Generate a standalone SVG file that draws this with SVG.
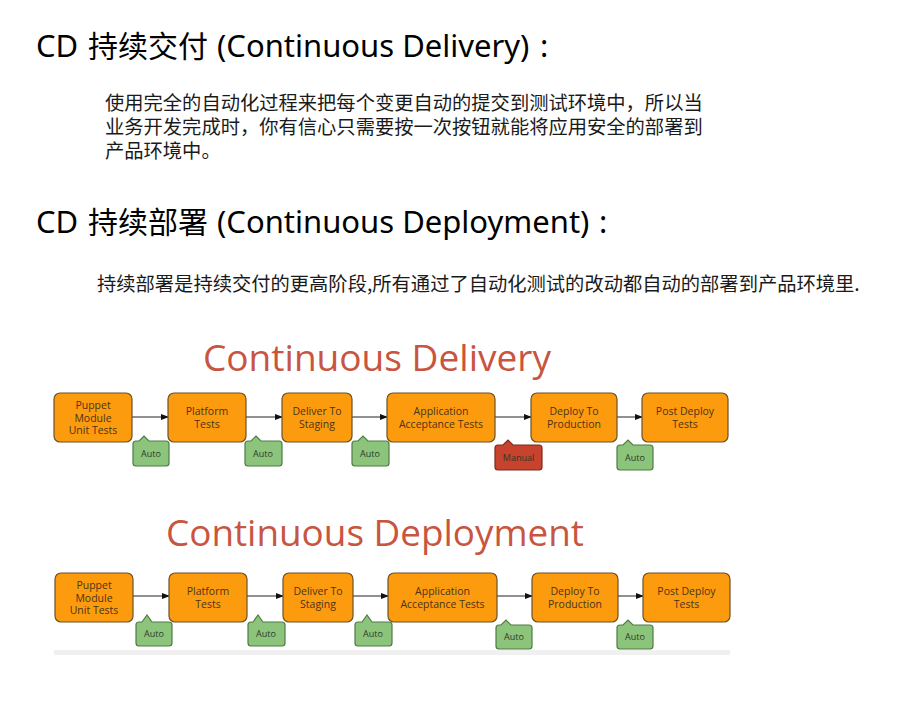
<svg xmlns="http://www.w3.org/2000/svg" width="903" height="723" viewBox="0 0 903 723">
<style>
.h{font-family:"Noto Sans","Noto Sans CJK SC",sans-serif;font-size:31px;fill:#000}
.hc{font-family:"Noto Sans CJK SC",sans-serif;font-size:30px}
.p{font-family:"Noto Sans CJK SC","Noto Sans",sans-serif;font-size:19.3px;fill:#1a1a1a}
.t{font-family:"Open Sans","Noto Sans",sans-serif;font-size:36px;fill:#c8553f}
.box{fill:#fd9b0f;stroke:#6b5126;stroke-width:1.2}
.bt{font-family:"Open Sans","Noto Sans",sans-serif;font-size:10.5px;fill:#4a3415;text-anchor:middle}
.auto{fill:#8cc47c;stroke:#4f7c45;stroke-width:1.2}
.man{fill:#c8432e;stroke:#7a2a1e;stroke-width:1.2}
.ct{font-family:"Open Sans","Noto Sans",sans-serif;font-size:9px;fill:#2d3a26;text-anchor:middle}
.ln{stroke:#222;stroke-width:1;fill:none;marker-end:url(#ah)}
</style>
<defs>
<marker id="ah" markerWidth="8" markerHeight="6" refX="7" refY="3" orient="auto" markerUnits="userSpaceOnUse">
<path d="M0,0 L8,3 L0,6 Z" fill="#111"/>
</marker>
</defs>
<rect width="903" height="723" fill="#fff"/>

<g id="heading1">
<text class="h" x="36" y="57">CD <tspan class="hc" x="88">持续交付</tspan> <tspan x="217">(Continuous Delivery)</tspan><tspan x="540">:</tspan></text>
</g>
<g id="para1">
<text class="p" x="105" y="110" font-size="19.4">使用完全的自动化过程来把每个变更自动的提交到测试环境中，所以当</text>
<text class="p" x="105" y="134" font-size="19.4">业务开发完成时，你有信心只需要按一次按钮就能将应用安全的部署到</text>
<text class="p" x="105" y="158" font-size="19.4">产品环境中。</text>
</g>
<g id="heading2">
<text class="h" x="36" y="233">CD <tspan class="hc" x="88">持续部署</tspan> <tspan x="217">(Continuous Deployment)</tspan><tspan x="599">:</tspan></text>
</g>
<g id="para2">
<text class="p" x="97" y="291">持续部署是持续交付的更高阶段,所有通过了自动化测试的改动都自动的部署到产品环境里.</text>
</g>

<!-- Continuous Delivery diagram -->
<g id="title-delivery">
<text class="t" x="203" y="371" textLength="348" lengthAdjust="spacingAndGlyphs">Continuous Delivery</text>
</g>
<g id="connectors-delivery">
<line class="ln" x1="132" y1="417" x2="168" y2="417"/>
<line class="ln" x1="246" y1="417" x2="282" y2="417"/>
<line class="ln" x1="352" y1="417" x2="387" y2="417"/>
<line class="ln" x1="495" y1="417" x2="531" y2="417"/>
<line class="ln" x1="617" y1="417" x2="642" y2="417"/>
</g>
<g id="d-puppet"><rect class="box" x="54" y="393" width="78" height="49" rx="6"/>
<text class="bt" x="93" y="409">Puppet</text><text class="bt" x="93" y="421.5">Module</text><text class="bt" x="93" y="434">Unit Tests</text></g>
<g id="d-platform"><rect class="box" x="168" y="393" width="78" height="49" rx="6"/>
<text class="bt" x="207" y="415">Platform</text><text class="bt" x="207" y="428">Tests</text></g>
<g id="d-staging"><rect class="box" x="282" y="393" width="70" height="49" rx="6"/>
<text class="bt" x="317" y="415">Deliver To</text><text class="bt" x="317" y="428">Staging</text></g>
<g id="d-acceptance"><rect class="box" x="387" y="393" width="108" height="49" rx="6"/>
<text class="bt" x="441" y="415">Application</text><text class="bt" x="441" y="428">Acceptance Tests</text></g>
<g id="d-production"><rect class="box" x="531" y="393" width="86" height="49" rx="6"/>
<text class="bt" x="574" y="415">Deploy To</text><text class="bt" x="574" y="428">Production</text></g>
<g id="d-post"><rect class="box" x="642" y="393" width="86" height="49" rx="6"/>
<text class="bt" x="685" y="415">Post Deploy</text><text class="bt" x="685" y="428">Tests</text></g>

<g id="d-auto1"><path class="auto" d="M136,441 H139 L144,436 L149,441 H166 Q169,441 169,444 V463 Q169,466 166,466 H136 Q133,466 133,463 V444 Q133,441 136,441 Z"/><text class="ct" x="151" y="457">Auto</text></g>
<g id="d-auto2"><path class="auto" d="M248,441 H251 L256,436 L261,441 H279 Q282,441 282,444 V463 Q282,466 279,466 H248 Q245,466 245,463 V444 Q245,441 248,441 Z"/><text class="ct" x="263" y="457">Auto</text></g>
<g id="d-auto3"><path class="auto" d="M355,441 H358 L363,436 L368,441 H386 Q389,441 389,444 V463 Q389,466 386,466 H355 Q352,466 352,463 V444 Q352,441 355,441 Z"/><text class="ct" x="370" y="457">Auto</text></g>
<g id="d-manual"><path class="man" d="M498,445 H503 L508,440 L513,445 H539 Q542,445 542,448 V467 Q542,470 539,470 H498 Q495,470 495,467 V448 Q495,445 498,445 Z"/><text class="ct" x="518.5" y="461">Manual</text></g>
<g id="d-auto5"><path class="auto" d="M620,445 H623 L628,440 L633,445 H650 Q653,445 653,448 V467 Q653,470 650,470 H620 Q617,470 617,467 V448 Q617,445 620,445 Z"/><text class="ct" x="635" y="461">Auto</text></g>

<!-- Continuous Deployment diagram -->
<g id="title-deployment">
<text class="t" x="166" y="546" textLength="418" lengthAdjust="spacingAndGlyphs">Continuous Deployment</text>
</g>
<rect x="54" y="650" width="676" height="5" fill="#f0f0f0"/>
<g id="connectors-deployment">
<line class="ln" x1="133" y1="596" x2="169" y2="596"/>
<line class="ln" x1="247" y1="596" x2="283" y2="596"/>
<line class="ln" x1="353" y1="596" x2="388" y2="596"/>
<line class="ln" x1="497" y1="596" x2="532" y2="596"/>
<line class="ln" x1="618" y1="596" x2="643" y2="596"/>
</g>
<g id="p-puppet"><rect class="box" x="55" y="573" width="78" height="49" rx="6"/>
<text class="bt" x="94" y="589">Puppet</text><text class="bt" x="94" y="601.5">Module</text><text class="bt" x="94" y="614">Unit Tests</text></g>
<g id="p-platform"><rect class="box" x="169" y="573" width="78" height="49" rx="6"/>
<text class="bt" x="208" y="595">Platform</text><text class="bt" x="208" y="608">Tests</text></g>
<g id="p-staging"><rect class="box" x="283" y="573" width="70" height="49" rx="6"/>
<text class="bt" x="318" y="595">Deliver To</text><text class="bt" x="318" y="608">Staging</text></g>
<g id="p-acceptance"><rect class="box" x="388" y="573" width="109" height="49" rx="6"/>
<text class="bt" x="442.5" y="595">Application</text><text class="bt" x="442.5" y="608">Acceptance Tests</text></g>
<g id="p-production"><rect class="box" x="532" y="573" width="86" height="49" rx="6"/>
<text class="bt" x="575" y="595">Deploy To</text><text class="bt" x="575" y="608">Production</text></g>
<g id="p-post"><rect class="box" x="643" y="573" width="87" height="49" rx="6"/>
<text class="bt" x="686.5" y="595">Post Deploy</text><text class="bt" x="686.5" y="608">Tests</text></g>

<g id="p-auto1"><path class="auto" d="M139,622 H142 L147,615 L152,622 H169 Q172,622 172,625 V643 Q172,646 169,646 H139 Q136,646 136,643 V625 Q136,622 139,622 Z"/><text class="ct" x="154" y="637">Auto</text></g>
<g id="p-auto2"><path class="auto" d="M251,622 H253 L258,615 L263,622 H282 Q285,622 285,625 V643 Q285,646 282,646 H251 Q248,646 248,643 V625 Q248,622 251,622 Z"/><text class="ct" x="266" y="637">Auto</text></g>
<g id="p-auto3"><path class="auto" d="M358,622 H362 L367,615 L372,622 H389 Q392,622 392,625 V643 Q392,646 389,646 H358 Q355,646 355,643 V625 Q355,622 358,622 Z"/><text class="ct" x="373" y="637">Auto</text></g>
<g id="p-auto4"><path class="auto" d="M499,625 H501 L506,620 L511,625 H529 Q532,625 532,628 V646 Q532,649 529,649 H499 Q496,649 496,646 V628 Q496,625 499,625 Z"/><text class="ct" x="514" y="640">Auto</text></g>
<g id="p-auto5"><path class="auto" d="M620,625 H623 L628,620 L633,625 H650 Q653,625 653,628 V646 Q653,649 650,649 H620 Q617,649 617,646 V628 Q617,625 620,625 Z"/><text class="ct" x="635" y="640">Auto</text></g>
</svg>
